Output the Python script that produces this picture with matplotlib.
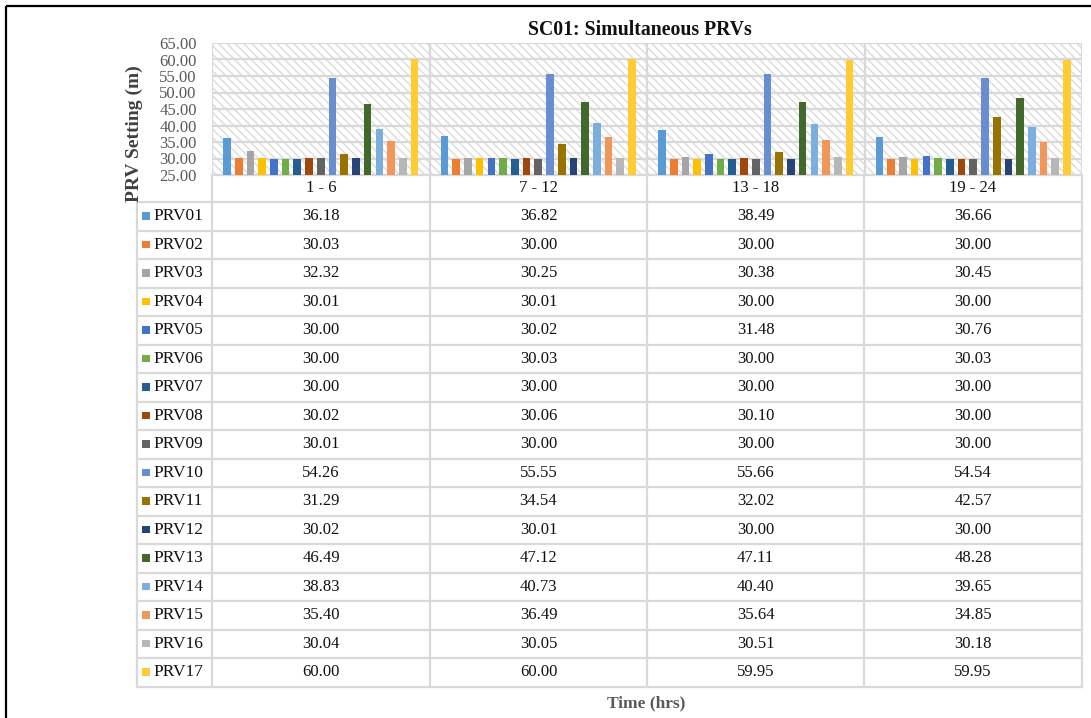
import matplotlib
matplotlib.use("Agg")
import matplotlib.pyplot as plt
from matplotlib.patches import Rectangle
import numpy as np

plt.rcParams['font.family'] = ['Liberation Serif', 'DejaVu Serif']
plt.rcParams['hatch.linewidth'] = 1.1

categories = ["1 - 6", "7 - 12", "13 - 18", "19 - 24"]
series_names = ["PRV01", "PRV02", "PRV03", "PRV04", "PRV05", "PRV06", "PRV07", "PRV08",
                "PRV09", "PRV10", "PRV11", "PRV12", "PRV13", "PRV14", "PRV15", "PRV16", "PRV17"]
prv01 = [36.18, 36.82, 38.49, 36.66]
prv02 = [30.03, 30.00, 30.00, 30.00]
prv03 = [32.32, 30.25, 30.38, 30.45]
prv04 = [30.01, 30.01, 30.00, 30.00]
prv05 = [30.00, 30.02, 31.48, 30.76]
prv06 = [30.00, 30.03, 30.00, 30.03]
prv07 = [30.00, 30.00, 30.00, 30.00]
prv08 = [30.02, 30.06, 30.10, 30.00]
prv09 = [30.01, 30.00, 30.00, 30.00]
prv10 = [54.26, 55.55, 55.66, 54.54]
prv11 = [31.29, 34.54, 32.02, 42.57]
prv12 = [30.02, 30.01, 30.00, 30.00]
prv13 = [46.49, 47.12, 47.11, 48.28]
prv14 = [38.83, 40.73, 40.40, 39.65]
prv15 = [35.40, 36.49, 35.64, 34.85]
prv16 = [30.04, 30.05, 30.51, 30.18]
prv17 = [60.00, 60.00, 59.95, 59.95]
values = [prv01, prv02, prv03, prv04, prv05, prv06, prv07, prv08, prv09,
          prv10, prv11, prv12, prv13, prv14, prv15, prv16, prv17]
colors = ["#5B9BD5", "#ED7D31", "#A5A5A5", "#FFC000", "#4472C4", "#70AD47", "#255E91",
          "#9E480E", "#636363", "#698ED0", "#997300", "#264478", "#43682B", "#7CAFDD",
          "#F1975A", "#B7B7B7", "#FFCD33"]
yticks = [25, 30, 35, 40, 45, 50, 55, 60, 65]

W, H = 1091, 718
fig = plt.figure(figsize=(W / 100, H / 100), dpi=100)

# pixel overlay
ov = fig.add_axes([0, 0, 1, 1])
ov.set_xlim(0, W)
ov.set_ylim(H, 0)
ov.axis('off')

# chart axes
L, R, T, B = 212, 1082, 43, 175
ax = fig.add_axes([L / W, 1 - B / H, (R - L) / W, (B - T) / H])
ax.set_xlim(-0.5, len(categories) - 0.5)
ax.set_ylim(25, 65)
for s in ax.spines.values():
    s.set_visible(False)
ax.add_patch(Rectangle((0, 0), 1, 1, transform=ax.transAxes, facecolor='white',
                       edgecolor='#DDDDDD', hatch='\\\\\\\\', linewidth=0, zorder=0))
for yv in yticks:
    ax.axhline(yv, color='#D9D9D9', lw=1.6, zorder=1)
for xv in np.arange(-0.5, len(categories), 1.0):
    ax.axvline(xv, color='#D9D9D9', lw=1.6, zorder=1)

n = len(series_names)
spacing = 0.0539
bw = 0.0354
x = np.arange(len(categories))
for i, (vals, c) in enumerate(zip(values, colors)):
    off = (i - (n - 1) / 2) * spacing
    ax.bar(x + off, np.array(vals) - 25, bottom=25, width=bw, color=c, zorder=3, linewidth=0)

ax.set_yticks(yticks)
ax.set_yticklabels([f"{v:.2f}" for v in yticks], fontsize=12, color='#595959')
ax.tick_params(axis='y', length=0, pad=11)
ax.set_xticks([])

# table
gcol = '#D9D9D9'
colx = [212, 430, 647, 864, 1082]
row0 = 202
rh = 28.5
nrows = n
bottom = row0 + nrows * rh
for cx in colx:
    ov.plot([cx, cx], [175, bottom], color=gcol, lw=1.6)
ov.plot([137, 137], [row0, bottom], color=gcol, lw=1.6)
ov.plot([212, 1082], [175, 175], color=gcol, lw=1.6)
for k in range(nrows + 1):
    ov.plot([137, 1082], [row0 + k * rh, row0 + k * rh], color=gcol, lw=1.6)

centers = [(colx[j] + colx[j + 1]) / 2 for j in range(4)]
for j, cat in enumerate(categories):
    ov.text(centers[j], 188.5, cat, ha='center', va='center', fontsize=12, color='#111111')

for i, name in enumerate(series_names):
    yc = row0 + (i + 0.5) * rh
    ov.add_patch(Rectangle((142, yc - 3.8), 7.5, 7.5, facecolor=colors[i], edgecolor='none'))
    ov.text(153, yc, name, ha='left', va='center', fontsize=12.5, color='#111111')
    for j in range(4):
        ov.text(centers[j], yc, f"{values[i][j]:.2f}", ha='center', va='center',
                fontsize=12, color='#111111')

# titles
ov.text(640, 30, "SC01: Simultaneous PRVs", ha='center', va='center', fontsize=14.2,
        fontweight='bold', color='#111111')
ov.text(134, 134, "PRV Setting (m)", ha='center', va='center', rotation=90, fontsize=14,
        fontweight='bold', color='#404040')
ov.text(646, 703, "Time (hrs)", ha='center', va='center', fontsize=12.5,
        fontweight='bold', color='#595959')

# outer frame (left and top)
ov.plot([6, 6], [6, H], color='black', lw=1.6, solid_capstyle='butt')
ov.plot([6, W], [6, 6], color='black', lw=1.6, solid_capstyle='butt')

fig.savefig("out.png", dpi=100)
